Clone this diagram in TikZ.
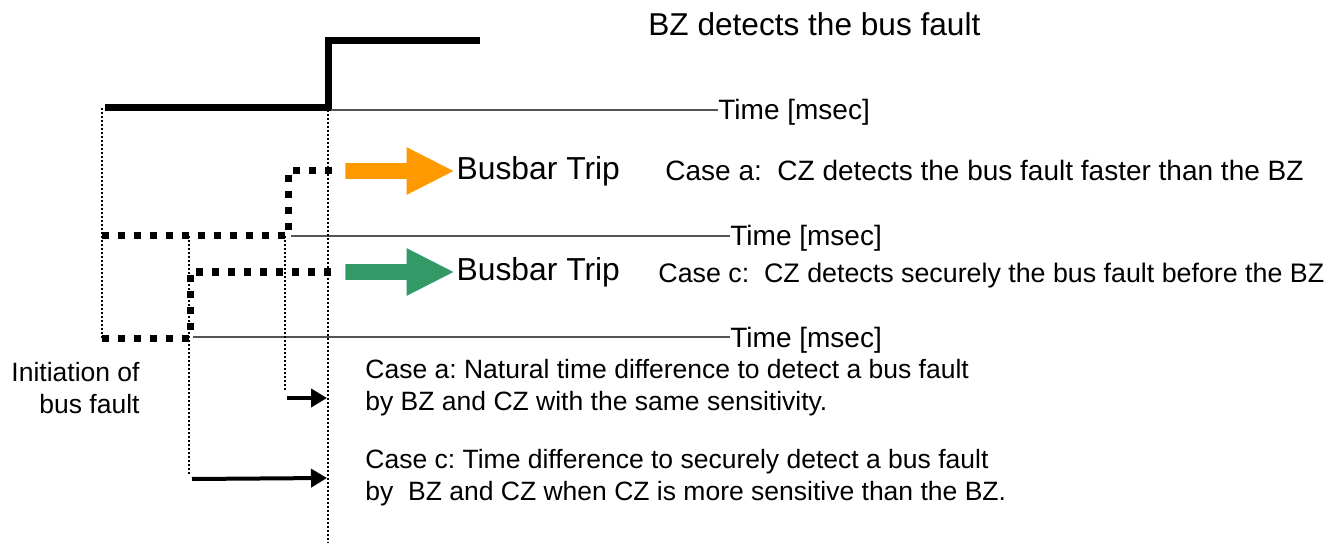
\documentclass[tikz,border=0pt]{standalone}
\usepackage{fontspec}
\setmainfont{Liberation Sans}
\usetikzlibrary{arrows.meta,positioning,shapes.arrows}
\definecolor{bforange}{HTML}{FF9900}
\definecolor{bfgreen}{HTML}{339966}
\definecolor{bfaxis}{HTML}{555555}
\tikzset{
  bz/.style={line width=3.5pt},
  cz/.style={line width=3.5pt, dash pattern=on 3.5pt off 4.5pt},
  ax/.style={draw=bfaxis, line width=0.7pt},
  gd/.style={line width=1pt, dash pattern=on 1pt off 1pt},
  trip/.style={single arrow, draw=none, minimum height=54pt, minimum width=23.5pt,
    single arrow head extend=8pt, single arrow tip angle=54, inner sep=3.75pt, anchor=west},
  dt/.style={-{Triangle[length=8pt,width=9pt]}, line width=2pt},
  lb/.style={inner sep=0pt, anchor=base west},
  ttl/.style={lb, font=\fontsize{15.8pt}{19pt}\selectfont},
  tbig/.style={inner sep=0pt, anchor=west, font=\fontsize{15.9pt}{19pt}\selectfont},
  md/.style={lb, font=\fontsize{14pt}{17pt}\selectfont},
  sm/.style={lb, align=left, font=\fontsize{13.25pt}{16pt}\selectfont},
}
\frenchspacing

\begin{document}
\begin{tikzpicture}[x=0.5pt, y=-0.5pt]
  \useasboundingbox (0,0) rectangle (1343,545);
  \node[ttl] (ttl) at (648,36) {BZ detects the bus fault};
  % BZ signal
  \coordinate (bz0) at (105,108);
  \coordinate (bz1) at (328,108);
  \coordinate (bz2) at (328,41);
  \coordinate (bz3) at (480,41);
  \draw[bz] (bz0) -- (bz1) -- (bz2) -- (bz3);
  % CZ signals
  \coordinate (a0) at (102,236);
  \coordinate (a1) at (288,236);
  \coordinate (a2) at (288,171);
  \coordinate (a3) at (340,171);
  \draw[cz] (a0) -- (a1) -- (a2) -- (a3);
  \coordinate (c0) at (102,338);
  \coordinate (c1) at (190,338);
  \coordinate (c2) at (190,272);
  \coordinate (c3) at (340,272);
  \draw[cz] (c0) -- (c1) -- (c2) -- (c3);
  % time axes
  \coordinate (o1) at (331,110);
  \coordinate (o2) at (291,236);
  \coordinate (o3) at (193,337);
  \node[md] (t1) at (718,120) {Time [msec]};
  \node[md] (t2) at (730,246) {Time [msec]};
  \node[md] (t3) at (730,347) {Time [msec]};
  \foreach \o/\t in {o1/t1,o2/t2,o3/t3}
    \draw[ax] (\o) -- (\o -| \t.west);
  % trips
  \node[trip, fill=bforange] (ta) at (345,171) {};
  \node[trip, fill=bfgreen] (tc) at (345,272) {};
  \node[tbig, right=1pt of ta] (ba) {Busbar Trip};
  \node[tbig, right=1pt of tc] (bc) {Busbar Trip};
  \node[md] (ca) at (665,181) {Case a:\ \ CZ detects the bus fault faster than the BZ};
  \node[md, font=\fontsize{13.4pt}{17pt}\selectfont] (cc) at (658,282) {Case c:\ \ CZ detects securely the bus fault before the BZ};
  % guides
  \coordinate (g0) at (328,543);
  \coordinate (ga) at (285,392);
  \coordinate (gc) at (189,474);
  \draw[gd] (a0 |- bz0) -- (c0);
  \draw[gd] (bz1 |- o1) -- (g0);
  \draw[gd] (ga |- a0) -- (ga);
  \draw[gd] (gc |- a0) -- (gc);
  % time differences
  \coordinate (da0) at (287,398);
  \coordinate (da1) at (327,398);
  \coordinate (dc0) at (192,479);
  \coordinate (dc1) at (327,478);
  \draw[dt] (da0) -- (da1);
  \draw[dt] (dc0) -- (dc1);
  \node[sm] (na) at (365,410) {Case a: Natural time difference to detect a bus fault\\by BZ and CZ with the same sensitivity.};
  \node[sm] (nc) at (365,500) {Case c: Time difference to securely detect a bus fault\\by\ \ BZ and CZ when CZ is more sensitive than the BZ.};
  \node[sm, align=right, anchor=base east] (init) at (140,413) {Initiation of\\bus fault};
\end{tikzpicture}
\end{document}
